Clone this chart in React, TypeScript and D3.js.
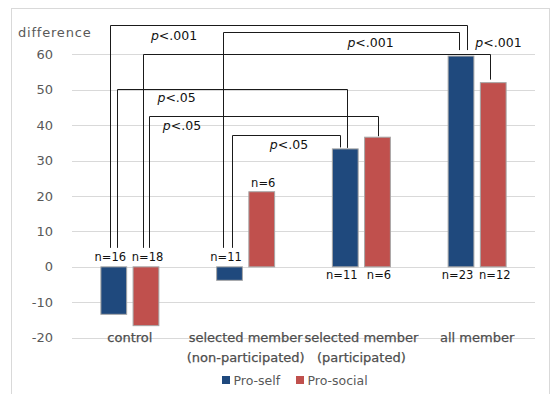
import React, { useEffect, useRef } from 'react';
import * as d3 from 'd3';

// chart data
const categories = ['control', 'non-participated', 'participated', 'all member'];
const categoryLines = [
  ['control'],
  ['selected member', '(non-participated)'],
  ['selected member', '(participated)'],
  ['all member'],
];
const series = ['Pro-self', 'Pro-social'];
const proSelf = [-13.4, -3.8, 33.3, 59.5];
const proSocial = [-16.6, 21.2, 36.6, 52.0];
const nProSelf = [16, 11, 11, 23];
const nProSocial = [18, 6, 6, 12];
const yTicks = [-20, -10, 0, 10, 20, 30, 40, 50, 60];

// significance brackets: from (category, series) to (category, series)
const brackets = [
  { from: [0, 0], to: [3, 0], p: '<.001' },
  { from: [1, 0], to: [3, 0], p: '<.001' },
  { from: [0, 1], to: [3, 1], p: '<.001' },
  { from: [0, 0], to: [2, 0], p: '<.05' },
  { from: [0, 1], to: [2, 1], p: '<.05' },
  { from: [1, 0], to: [2, 0], p: '<.05' },
];
// bracket layout: top level (in y units), x nudges, end gap, label position
const bracketLayout = [
  { top: 68.3, dx0: -3.8, dx1: 5.6, gap: 6, lx: 0.178, ly: 10 },
  { top: 66.3, dx0: -6.5, dx1: -2, gap: 6, lx: 0.623, ly: 10 },
  { top: 60.1, dx0: -3.4, dx1: -3.3, gap: 3, lx: 1.023, ly: -12 },
  { top: 50.1, dx0: 3.5, dx1: 2, gap: 1, lx: 0.257, ly: 8 },
  { top: 42.7, dx0: 2.9, dx1: 0.1, gap: 1, lx: 0.142, ly: 9 },
  { top: 37.2, dx0: 2.5, dx1: -5.3, gap: 1.5, lx: 0.523, ly: 9 },
];

const colors = ['#1F497D', '#C0504D'];
const font = "'DejaVu Sans', Verdana, sans-serif";
const W = 555,
  H = 394;

export default function App() {
  const ref = useRef<SVGSVGElement>(null);

  useEffect(() => {
    const svg = d3.select(ref.current);
    svg.selectAll('*').remove();

    // outer chart border
    svg
      .append('rect')
      .attr('x', 11.5)
      .attr('y', 8.5)
      .attr('width', 538)
      .attr('height', 400)
      .attr('fill', '#fff')
      .attr('stroke', '#d9d9d9');

    const y = d3.scaleLinear().domain([-20, 60]).range([337.7, 54.3]);
    const x0 = d3.scaleBand<string>().domain(categories).range([72, 535]);
    const groupW = 58;
    const x1 = d3.scaleBand<string>().domain(series).range([0, groupW]).paddingInner(0.2);
    const groupStart = (i: number) => (x0(categories[i]) as number) + (x0.step() - groupW) / 2;
    const barCenter = (i: number, s: number) =>
      groupStart(i) + (x1(series[s]) as number) + x1.bandwidth() / 2;
    const values = [proSelf, proSocial];
    const ns = [nProSelf, nProSocial];
    const nShift = [-3.5, 1.5];

    // gridlines
    svg
      .append('g')
      .selectAll('line')
      .data(yTicks)
      .enter()
      .append('line')
      .attr('x1', 72)
      .attr('x2', 535)
      .attr('y1', (d) => Math.round(y(d)) + 0.5)
      .attr('y2', (d) => Math.round(y(d)) + 0.5)
      .attr('stroke', '#d9d9d9')
      .attr('stroke-width', 1);

    // y tick labels
    svg
      .append('g')
      .selectAll('text')
      .data(yTicks)
      .enter()
      .append('text')
      .attr('x', 53)
      .attr('y', (d) => y(d) + 4.5)
      .attr('text-anchor', 'end')
      .attr('font-family', font)
      .attr('font-size', 13)
      .attr('fill', '#595959')
      .text((d) => d);

    svg
      .append('text')
      .attr('x', 18)
      .attr('y', 36.5)
      .attr('font-family', font)
      .attr('font-size', 13)
      .attr('letter-spacing', 0.8)
      .attr('fill', '#595959')
      .text('difference');

    // bars
    series.forEach((s, si) => {
      svg
        .append('g')
        .selectAll('rect')
        .data(values[si])
        .enter()
        .append('rect')
        .attr('x', (d, i) => groupStart(i) + (x1(s) as number))
        .attr('y', (d) => y(Math.max(0, d)))
        .attr('width', x1.bandwidth())
        .attr('height', (d) => Math.abs(y(d) - y(0)))
        .attr('fill', colors[si])
        .attr('stroke', '#a6a6a6')
        .attr('stroke-width', 1);
    });

    // n labels
    series.forEach((s, si) => {
      svg
        .append('g')
        .selectAll('text')
        .data(ns[si])
        .enter()
        .append('text')
        .attr('x', (d, i) => barCenter(i, si) + nShift[si])
        .attr('y', (d, i) => {
          const v = values[si][i];
          if (v < 0) return y(0) - 5.5;
          if (v < 30) return y(v) - 4.5;
          return y(0) + 12.5;
        })
        .attr('text-anchor', 'middle')
        .attr('font-family', font)
        .attr('font-size', 11.5)
        .attr('fill', '#111')
        .text((d) => 'n=' + d);
    });

    // category labels
    categoryLines.forEach((lines, i) => {
      const cx = (x0(categories[i]) as number) + x0.step() / 2;
      lines.forEach((line, li) => {
        svg
          .append('text')
          .attr('x', cx)
          .attr('y', 341.5 + li * 20.5)
          .attr('text-anchor', 'middle')
          .attr('font-family', font)
          .attr('font-size', 13)
          .attr('fill', '#4d4d4d')
          .attr('stroke', '#4d4d4d')
          .attr('stroke-width', 0.25)
          .text(line);
      });
    });

    // significance brackets
    const bracketG = svg.append('g');
    brackets.forEach((b, bi) => {
      const L = bracketLayout[bi];
      const xa = Math.round(barCenter(b.from[0], b.from[1]) + L.dx0) + 0.5;
      const xb = Math.round(barCenter(b.to[0], b.to[1]) + L.dx1) + 0.5;
      const va = values[b.from[1]][b.from[0]];
      const vb = values[b.to[1]][b.to[0]];
      const ya = va < 0 ? y(0) - 19 : y(va) - L.gap;
      const yb = vb < 0 ? y(0) - 19 : y(vb) - L.gap;
      const yt = Math.round(y(L.top)) + 0.5;
      const path = d3.path();
      path.moveTo(xa, ya);
      path.lineTo(xa, yt);
      path.lineTo(xb, yt);
      path.lineTo(xb, yb);
      bracketG
        .append('path')
        .attr('d', path.toString())
        .attr('fill', 'none')
        .attr('stroke', '#1a1a1a')
        .attr('stroke-width', 1);

      const t = bracketG
        .append('text')
        .attr('x', xa + (xb - xa) * L.lx)
        .attr('y', yt + L.ly + 4.5)
        .attr('text-anchor', 'middle')
        .attr('font-family', font)
        .attr('font-size', 12.5)
        .attr('fill', '#111');
      t.append('tspan').attr('font-style', 'italic').text('p');
      t.append('tspan').text(b.p);
    });

    // legend
    const legend = svg.append('g');
    const legendX = [222, 296];
    series.forEach((s, si) => {
      legend
        .append('rect')
        .attr('x', legendX[si])
        .attr('y', 376)
        .attr('width', 8)
        .attr('height', 8)
        .attr('fill', colors[si]);
      legend
        .append('text')
        .attr('x', legendX[si] + 11.5)
        .attr('y', 384.5)
        .attr('font-family', font)
        .attr('font-size', 12.5)
        .attr('fill', '#595959')
        .text(s);
    });
  }, []);

  return (
    <svg
      ref={ref}
      width={W}
      height={H}
      style={{ position: 'absolute', left: 0, top: 0, background: '#fff', display: 'block' }}
    />
  );
}
